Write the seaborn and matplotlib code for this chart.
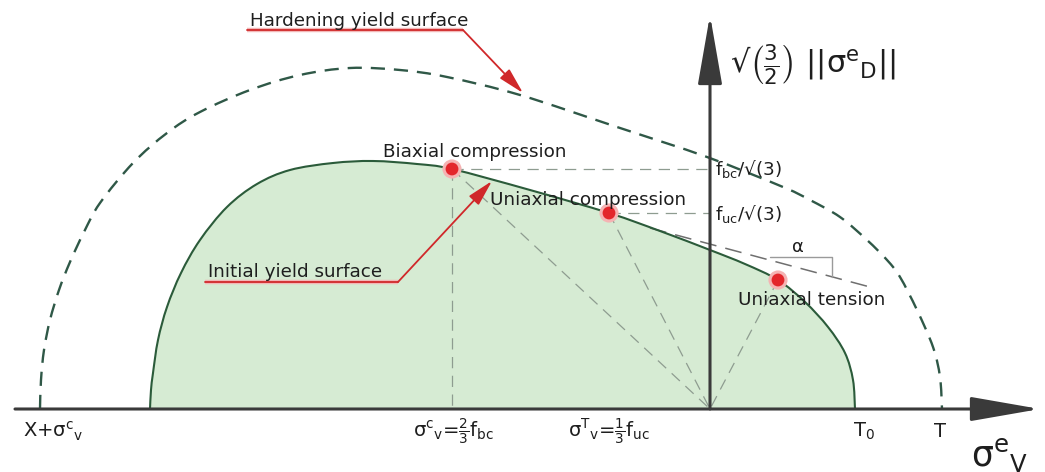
import matplotlib
matplotlib.use("Agg")
import matplotlib.pyplot as plt
from matplotlib.path import Path
from matplotlib.patches import PathPatch
import seaborn as sns

# Meridian plane: hydrostatic stress sigma_v (x) against sqrt(3/2)*||sigma_D|| (y)
init_sigma = [-560, -559, -557, -552, -543, -529, -510, -483, -453, -420, -377, -337,
              -293, -258, -180, -101, -50, 0, 35, 68, 95, 118, 135, 143, 145]
init_q = [0, 19, 36, 69, 102, 136, 169, 202, 225, 239, 246, 248,
          245, 240, 219, 196, 178, 159, 145, 129, 107, 82, 56, 29, 0]

hard_sigma = [-670, -669, -666, -660, -651, -640, -626, -610, -577, -543, -510, -460, -410,
              -360, -310, -263, -190, -93, -3, 73, 100, 130, 157, 177, 190, 207, 223, 230, 232]
hard_q = [0, 29, 59, 89, 119, 147, 177, 206, 246, 276, 297, 319, 334,
          341, 339, 332, 314, 282, 252, 222, 209, 192, 169, 149, 132, 99, 62, 32, 0]

point_names = ["Biaxial compression", "Uniaxial compression", "Uniaxial tension"]
point_sigma = [-258, -101, 68]
point_q = [240, 196, 129]

tangent_sigma = [-60, 160]
tangent_q = [181, 122]

tick_pos = [-687, -297, -142, 143, 230]
tick_labels = ["X+σ$^{c}{}_{v}$", "σ$^{c}{}_{v}$=$\\frac{2}{3}$f$_{bc}$",
               "σ$^{T}{}_{v}$=$\\frac{1}{3}$f$_{uc}$", "T$_{0}$", "T"]

sns.set_theme(style="white")
plt.rcParams["font.family"] = ["DejaVu Sans"]
plt.rcParams["mathtext.fontset"] = "custom"
plt.rcParams["mathtext.rm"] = "DejaVu Sans"
plt.rcParams["mathtext.it"] = "DejaVu Sans"
plt.rcParams["mathtext.bf"] = "DejaVu Sans:bold"

fig = plt.figure(figsize=(10.45, 4.72), dpi=100)
ax = fig.add_axes([0, 0, 1, 1])
ax.set_xlim(-710, 335)
ax.set_ylim(-63, 409)
ax.axis("off")

GREEN_FILL = "#d6ebd3"
GREEN_EDGE = "#2b5b3a"
GREEN_DASH = "#2f5847"
GUIDE = "#8e9c90"
RED = "#e3262b"
TEXT = "#1e1e1e"


def smooth_path(xs, ys, close=False):
    """Cubic Bezier path through the given points (Catmull-Rom tangents)."""
    pts = list(zip(xs, ys))
    verts = [pts[0]]
    codes = [Path.MOVETO]
    n = len(pts)
    for i in range(n - 1):
        p0 = pts[i - 1] if i > 0 else pts[i]
        p1, p2 = pts[i], pts[i + 1]
        p3 = pts[i + 2] if i + 2 < n else pts[i + 1]
        c1 = (p1[0] + (p2[0] - p0[0]) / 6, p1[1] + (p2[1] - p0[1]) / 6)
        c2 = (p2[0] - (p3[0] - p1[0]) / 6, p2[1] - (p3[1] - p1[1]) / 6)
        verts += [c1, c2, p2]
        codes += [Path.CURVE4] * 3
    if close:
        verts.append(pts[0])
        codes.append(Path.CLOSEPOLY)
    return Path(verts, codes)


# elastic domain
ax.add_patch(PathPatch(smooth_path(init_sigma, init_q, close=True),
                       facecolor=GREEN_FILL, edgecolor="none", zorder=1))

# construction lines
guide_kw = dict(color=GUIDE, lw=0.9, zorder=2)
for s, q in zip(point_sigma, point_q):
    sns.lineplot(x=[s, 0], y=[q, 0], sort=False, estimator=None, ax=ax, **guide_kw)
    ax.lines[-1].set_dashes((9, 6))
for s, q in zip(point_sigma[:2], point_q[:2]):
    sns.lineplot(x=[s, 0], y=[q, q], sort=False, estimator=None, ax=ax, **guide_kw)
    ax.lines[-1].set_dashes((9, 6))
sns.lineplot(x=[point_sigma[0], point_sigma[0]], y=[point_q[0], 0], sort=False,
             estimator=None, ax=ax, **guide_kw)
ax.lines[-1].set_dashes((9, 6))

# tangent and slope angle
sns.lineplot(x=tangent_sigma, y=tangent_q, sort=False, estimator=None, ax=ax,
             color="#6f6f6f", lw=1.1, zorder=2)
ax.lines[-1].set_dashes((11, 6))
slope = (tangent_q[1] - tangent_q[0]) / (tangent_sigma[1] - tangent_sigma[0])
s_tick = 122
q_tick = tangent_q[0] + slope * (s_tick - tangent_sigma[0])
ax.plot([60, s_tick, s_tick], [q_tick + 20, q_tick + 20, q_tick], color="#9a9a9a", lw=1.0, zorder=2)
ax.text(88, q_tick + 30, "α", fontsize=13, color=TEXT, ha="center", va="center", zorder=6)

# yield surfaces
ax.add_patch(PathPatch(smooth_path(init_sigma, init_q), facecolor="none",
                       edgecolor=GREEN_EDGE, lw=1.5, zorder=3))
ax.add_patch(PathPatch(smooth_path(hard_sigma, hard_q), facecolor="none",
                       edgecolor=GREEN_DASH, lw=1.7, linestyle=(0, (6, 3.8)), zorder=3))

# coordinate axes
axis_kw = dict(arrowstyle="-|>,head_length=4.3,head_width=0.75", lw=2.2,
               color="#3a3a3a", mutation_scale=10, shrinkA=0, shrinkB=0)
ax.annotate("", xy=(330, 0), xytext=(-695, 0), arrowprops=axis_kw, zorder=4)
ax.annotate("", xy=(0, 394), xytext=(0, 0), arrowprops=axis_kw, zorder=4)

# characteristic points
sns.scatterplot(x=point_sigma, y=point_q, s=190, color="#f5b3b3", edgecolor="none",
                ax=ax, zorder=5)
sns.scatterplot(x=point_sigma, y=point_q, s=85, color=RED, edgecolor="none",
                ax=ax, zorder=6)

# point labels
lab_kw = dict(fontsize=13.2, color=TEXT, va="baseline", zorder=7)
ax.text(-327, 252, point_names[0], **lab_kw)
ax.text(-220, 204, point_names[1], **lab_kw)
ax.text(28, 104, point_names[2], **lab_kw)

ax.text(5, 234, "f$_{bc}$/√(3)", fontsize=13.2, color=TEXT, va="baseline", zorder=7)
ax.text(5, 189, "f$_{uc}$/√(3)", fontsize=13.2, color=TEXT, va="baseline", zorder=7)


# callouts
def callout(text, corner, start, tip, ty):
    ax.plot([start, corner[0]], [corner[1], corner[1]], color="#f2b8b8", lw=3.2,
            solid_capstyle="butt", zorder=6)
    ax.plot([start, corner[0]], [corner[1], corner[1]], color="#d0282a", lw=1.3, zorder=6)
    ax.annotate("", xy=tip, xytext=corner, zorder=6,
                arrowprops=dict(arrowstyle="-|>,head_length=1.0,head_width=0.25",
                                color="#d0282a", lw=1.3, mutation_scale=16,
                                shrinkA=0, shrinkB=0))
    ax.text(start + 3, ty, text, fontsize=13.2, color=TEXT, va="baseline", zorder=7)


callout("Hardening yield surface", (-247, 379), -463, (-187, 316), 383)
callout("Initial yield surface", (-312, 127), -505, (-218, 228), 132)

# axis annotations
for pos, lab in zip(tick_pos, tick_labels):
    ha = "center" if lab == "T" else "left"
    ax.text(pos, -28, lab, fontsize=14, color=TEXT, ha=ha, va="baseline", zorder=7)

ax.text(261, -57, "σ$^{e}{}_{V}$", fontsize=25, color=TEXT, va="baseline", zorder=7)
ax.text(20, 344, "√$\\left(\\frac{3}{2}\\right)$ ||σ$^{e}{}_{D}$||", fontsize=22,
        color=TEXT, va="center", zorder=7)

fig.savefig("out.png", dpi=100)
